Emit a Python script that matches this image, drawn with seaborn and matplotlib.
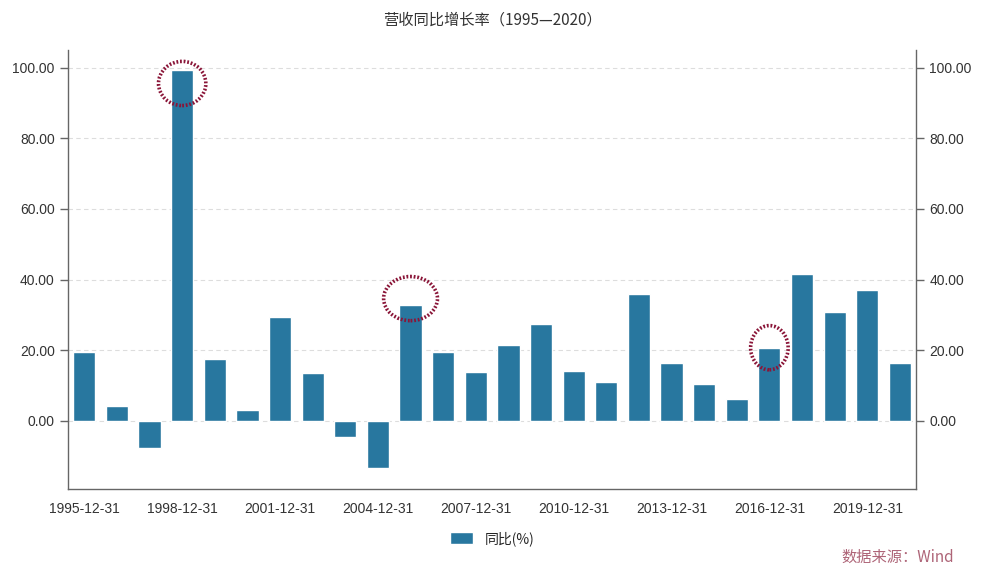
import matplotlib
matplotlib.use("Agg")
import matplotlib.pyplot as plt
import seaborn as sns
import pandas as pd
from matplotlib.patches import Ellipse

sns.set_theme(style="white")
plt.rcParams["font.family"] = ["Liberation Sans", "Noto Sans CJK SC", "DejaVu Sans"]

# -------------------------------------------------------------
# data
# -------------------------------------------------------------
years = list(range(1995, 2021))
dates = [f"{y}-12-31" for y in years]
yoy = [19.5, 4.2, -7.6, 99.3, 17.6, 3.0, 29.5, 13.6, -4.6, -13.4,
       32.8, 19.6, 13.8, 21.5, 27.4, 14.0, 11.0, 36.0, 16.4, 10.5,
       6.2, 20.6, 41.6, 30.9, 37.1, 16.4]
highlight = ["1998-12-31", "2005-12-31", "2016-12-31"]
highlight_y = [95.5, 34.6, 20.7]
highlight_w = [1.45, 1.65, 1.15]
y_ticks = [0, 20, 40, 60, 80, 100]

bar_color = "#28779f"
df = pd.DataFrame({"date": dates, "yoy": yoy})

fig = plt.figure(figsize=(9.84, 5.77), dpi=100)
ax = fig.add_axes([0.0691, 0.1525, 0.862, 0.761])

sns.barplot(data=df, x="date", y="yoy", color=bar_color, width=0.68,
            saturation=1, ax=ax, label="同比(%)")

ax.set_xlim(-0.5, len(dates) - 0.5)
ax.set_ylim(-19.3, 105)
ax.set_yticks(y_ticks)
ax.set_yticklabels([f"{v:.2f}" for v in y_ticks])
ax.set_xticks(range(0, len(dates), 3))
ax.set_xticklabels(dates[::3])
ax.set_xlabel("")
ax.set_ylabel("")

ax.yaxis.grid(True, linestyle=(0, (4, 3)), color="#dddddd", linewidth=0.8)
ax.set_axisbelow(True)

for side in ["left", "right", "bottom"]:
    ax.spines[side].set_color("#666666")
    ax.spines[side].set_linewidth(1)
ax.spines["top"].set_visible(False)

ax.tick_params(axis="both", colors="#666666", labelcolor="#333333",
               labelsize=10, length=6, width=1, direction="out")
ax.tick_params(axis="y", right=True, labelright=True, left=True)

# dotted circles around some bars
for d, cy, w in zip(highlight, highlight_y, highlight_w):
    i = dates.index(d)
    ax.add_patch(Ellipse((i, cy), w, 12.5, fill=False,
                         edgecolor="#8a1538", linewidth=2.6,
                         linestyle=(0, (0.5, 0.5)), zorder=5))

fig.text(0.5, 0.965, "营收同比增长率（1995—2020）", ha="center", va="center",
         fontsize=11, color="#333333",
         family=["Noto Sans CJK SC", "DejaVu Sans"])

leg = ax.legend(loc="upper center", bbox_to_anchor=(0.5, -0.067), frameon=False,
                handlelength=1.7, handleheight=1.0,
                prop={"family": ["Noto Sans CJK SC", "DejaVu Sans"], "size": 10})

fig.text(0.855, 0.035, "数据来源：Wind", ha="left", va="center", fontsize=11,
         color="#a04a60", alpha=0.85,
         family=["Noto Sans CJK SC", "DejaVu Sans"])

fig.savefig("out.png", dpi=100)
